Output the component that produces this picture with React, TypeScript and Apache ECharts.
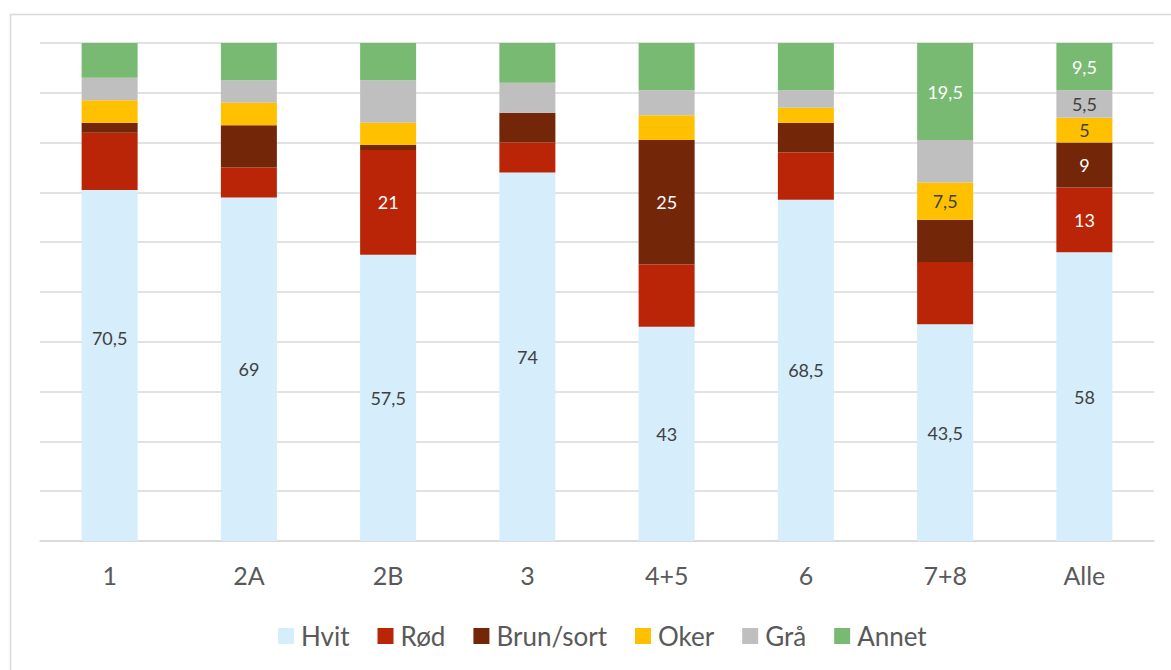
import React, { useEffect, useRef } from "react";
import * as echarts from "echarts";

const categories = ["1", "2A", "2B", "3", "4+5", "6", "7+8", "Alle"];
const seriesNames = ["Hvit", "Rød", "Brun/sort", "Oker", "Grå", "Annet"];
const hvit = [70.5, 69, 57.5, 74, 43, 68.5, 43.5, 58];
const rod = [11.5, 6, 21, 6, 12.5, 9.5, 12.5, 13];
const brun = [2, 8.5, 1, 6, 25, 6, 8.5, 9];
const oker = [4.5, 4.5, 4.5, 0, 5, 3, 7.5, 5];
const graa = [4.5, 4.5, 8.5, 6, 5, 3.5, 8.5, 5.5];
const annet = [7, 7.5, 7.5, 8, 9.5, 9.5, 19.5, 9.5];
const yTicks = [0, 10, 20, 30, 40, 50, 60, 70, 80, 90, 100];

// which segments carry a data label (1 = shown)
const hvitLabels = [1, 1, 1, 1, 1, 1, 1, 1];
const rodLabels = [0, 0, 1, 0, 0, 0, 0, 1];
const brunLabels = [0, 0, 0, 0, 1, 0, 0, 1];
const okerLabels = [0, 0, 0, 0, 0, 0, 1, 1];
const graaLabels = [0, 0, 0, 0, 0, 0, 0, 1];
const annetLabels = [0, 0, 0, 0, 0, 0, 1, 1];

const colors = ["#D6EDFB", "#BA2507", "#732608", "#FFC000", "#BFBFBF", "#79BA72"];
const labelColors = ["#404040", "#FFFFFF", "#FFFFFF", "#404040", "#404040", "#FFFFFF"];

const FONT = "Lato, 'Noto Sans', sans-serif";

export default function App() {
  const ref = useRef<HTMLDivElement>(null);
  useEffect(() => {
    if (!ref.current) return;
    const chart = echarts.init(ref.current, null, { renderer: "svg" });
    const values = [hvit, rod, brun, oker, graa, annet];
    const labels = [hvitLabels, rodLabels, brunLabels, okerLabels, graaLabels, annetLabels];
    const series = seriesNames.map((name, si) => ({
      name,
      type: "bar",
      stack: "total",
      barWidth: 56,
      itemStyle: { color: colors[si] },
      label: {
        show: false,
        position: "inside",
        color: labelColors[si],
        fontFamily: FONT,
        fontSize: 18,
        formatter: (p: any) => String(p.value).replace(".", ","),
      },
      data: values[si].map((v, ci) => {
        const item: any = { value: v };
        if (labels[si][ci]) {
          item.label = { show: true };
          if (si === 0 && ci === 0) item.label.offset = [0, -27];
        }
        return item;
      }),
    }));
    chart.setOption({
      animation: false,
      backgroundColor: "#FFFFFF",
      textStyle: { fontFamily: FONT },
      graphic: [
        {
          type: "rect",
          shape: { x: 10.5, y: 14.5, width: 1200, height: 700 },
          style: { fill: "none", stroke: "#D9D9D9", lineWidth: 1.5 },
          silent: true,
        },
      ],
      grid: { left: 40, right: 17, top: 43, bottom: 129 },
      legend: {
        left: 273,
        top: 618,
        itemWidth: 16,
        itemHeight: 16,
        itemGap: 28,
        icon: "rect",
        textStyle: { fontFamily: FONT, fontSize: 26, color: "#595959", padding: [0, 0, 0, 2] },
        data: seriesNames,
      },
      xAxis: {
        type: "category",
        data: categories,
        axisLine: { lineStyle: { color: "#D9D9D9", width: 1.5 } },
        axisTick: { show: false },
        axisLabel: { fontFamily: FONT, fontSize: 25, color: "#595959", margin: 21 },
      },
      yAxis: {
        type: "value",
        min: yTicks[0],
        max: yTicks[yTicks.length - 1],
        interval: yTicks[1] - yTicks[0],
        axisLabel: { show: false },
        axisLine: { show: false },
        axisTick: { show: false },
        splitLine: { lineStyle: { color: "#D9D9D9", width: 1.5 } },
      },
      series,
    });
    return () => chart.dispose();
  }, []);
  return (
    <div
      ref={ref}
      style={{ position: "fixed", left: 0, top: 0, width: 1171, height: 670 }}
    />
  );
}
